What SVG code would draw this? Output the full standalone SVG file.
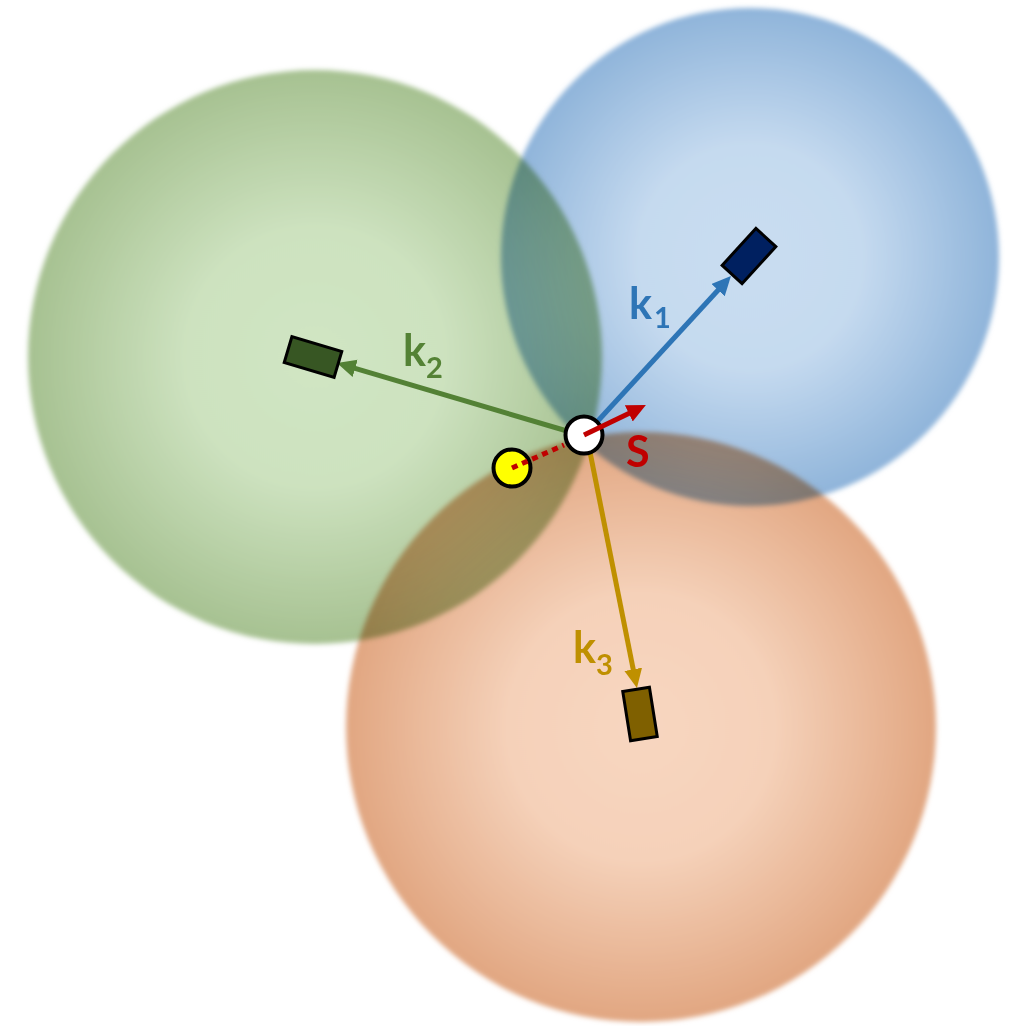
<svg xmlns="http://www.w3.org/2000/svg" width="1020" height="1026" viewBox="0 0 1020 1026">
<defs>
<style>
.blob{mix-blend-mode:multiply;filter:url(#soft)}
.vec{fill:none;stroke-width:5}
.box{stroke:#000;stroke-width:3}
.lbl{font-family:Lato,"Open Sans",sans-serif;font-weight:700}
.main{font-size:43px}
.sub{font-size:29px}
</style>
<filter id="soft" x="-10%" y="-10%" width="120%" height="120%"><feGaussianBlur stdDeviation="2.5"/></filter>
<radialGradient id="gG"><stop offset="0" stop-color="#d0e5c3"/><stop offset="0.45" stop-color="#cde2bf"/><stop offset="1" stop-color="#a6c191"/></radialGradient>
<radialGradient id="gB"><stop offset="0" stop-color="#c9ddf1"/><stop offset="0.45" stop-color="#c5daef"/><stop offset="1" stop-color="#8fb4da"/></radialGradient>
<radialGradient id="gO"><stop offset="0" stop-color="#f8d6c0"/><stop offset="0.45" stop-color="#f5d1b9"/><stop offset="1" stop-color="#e1a681"/></radialGradient>
<marker id="aB" markerUnits="userSpaceOnUse" markerWidth="22" markerHeight="20" refX="8" refY="9" orient="auto"><path d="M0,0 L19,9 L0,18 Z" fill="#2e75b6"/></marker>
<marker id="aG" markerUnits="userSpaceOnUse" markerWidth="22" markerHeight="20" refX="8" refY="9" orient="auto"><path d="M0,0 L19,9 L0,18 Z" fill="#538135"/></marker>
<marker id="aO" markerUnits="userSpaceOnUse" markerWidth="22" markerHeight="20" refX="8" refY="9" orient="auto"><path d="M0,0 L19,9 L0,18 Z" fill="#bf9000"/></marker>
<marker id="aR" markerUnits="userSpaceOnUse" markerWidth="22" markerHeight="20" refX="8" refY="9" orient="auto"><path d="M0,0 L19,9 L0,18 Z" fill="#c00000"/></marker>
</defs>
<rect width="1020" height="1026" fill="#fff"/>
<g id="regions">
<circle id="region-green" class="blob" cx="315" cy="357" r="287" fill="url(#gG)"/>
<circle id="region-blue" class="blob" cx="750" cy="257" r="249" fill="url(#gB)"/>
<circle id="region-orange" class="blob" cx="641" cy="727" r="295" fill="url(#gO)"/>
</g>
<g id="connectors">
<line class="vec" stroke="#2e75b6" x1="584" y1="436" x2="723.5" y2="284.2" marker-end="url(#aB)"/>
<line class="vec" stroke="#538135" x1="584" y1="436" x2="347.5" y2="366.1" marker-end="url(#aG)"/>
<line class="vec" stroke="#bf9000" x1="587" y1="437" x2="634.8" y2="677.2" marker-end="url(#aO)"/>
</g>
<g id="k1-target"><rect class="box" x="-25" y="-13.5" width="50" height="27" fill="#002060" transform="translate(749 256) rotate(-47.5)"/></g>
<g id="k2-target"><rect class="box" x="-26" y="-13.5" width="52" height="27" fill="#375623" transform="translate(313 357) rotate(16.5)"/></g>
<g id="k3-target"><rect class="box" x="-25" y="-13.5" width="50" height="27" fill="#7f6000" transform="translate(640 714) rotate(81)"/></g>
<g id="point-white"><circle cx="584" cy="435" r="18.5" fill="#fff" stroke="#000" stroke-width="4"/></g>
<g id="point-yellow"><circle cx="512" cy="468" r="18.5" fill="#ffff00" stroke="#000" stroke-width="4"/></g>
<g id="s-connectors">
<line x1="512" y1="468" x2="564" y2="445" stroke="#c00000" stroke-width="5" stroke-dasharray="6 5"/>
<line class="vec" stroke="#c00000" x1="584" y1="435" x2="636" y2="409.9" marker-end="url(#aR)"/>
</g>
<g id="labels" class="lbl">
<text x="629" y="319" class="main" fill="#2e75b6">k<tspan class="sub" x="654" y="328">1</tspan></text>
<text x="403" y="366" class="main" fill="#548235">k<tspan class="sub" x="426" y="378">2</tspan></text>
<text x="573" y="663" class="main" fill="#bf9000">k<tspan class="sub" x="596" y="675">3</tspan></text>
<text x="626" y="467" font-size="43" fill="#c00000">S</text>
</g>
</svg>
